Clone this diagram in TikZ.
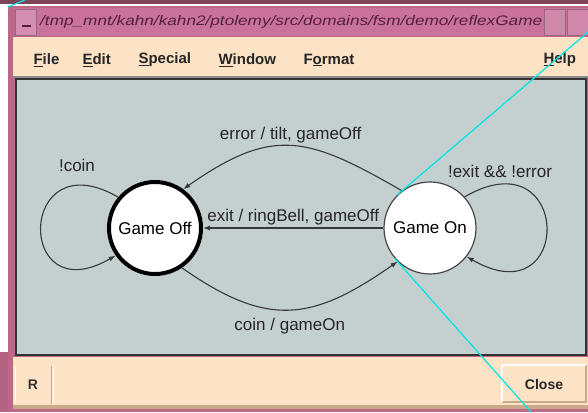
\documentclass[tikz,border=0pt]{standalone}
\usepackage{fontspec}
\usepackage{graphicx}
\setmainfont{Liberation Sans}
\usetikzlibrary{arrows.meta}
\definecolor{maroon}{HTML}{7D4459}
\definecolor{framepink}{HTML}{BE6789}
\definecolor{titlepink}{HTML}{C9729B}
\definecolor{titletext}{HTML}{55203A}
\definecolor{peach}{HTML}{FDE3C5}
\definecolor{tan}{HTML}{C9A98A}
\definecolor{canvas}{HTML}{C4CFCF}
\definecolor{calloutcyan}{HTML}{00E5E8}
\begin{document}
\begin{tikzpicture}[x=1pt,y=1pt,
    state/.style={circle,draw=black!72,line width=1.2pt,fill=white,minimum size=92pt,inner sep=0pt,font=\fontsize{17}{19}\selectfont},
    trans/.style={draw=black!78,line width=1.1pt,-{Latex[length=7pt,width=5pt]}},
    lab/.style={font=\fontsize{17}{19}\selectfont,text=black!85,inner sep=2pt},
    menu/.style={anchor=west,font=\bfseries\fontsize{15}{17}\selectfont,text=black!85},
    callout/.style={draw=calloutcyan,line width=1.2pt}]
    \useasboundingbox (0,0) rectangle (588,412);
    % window frame
    \fill[maroon] (0,0) rectangle (588,412);
    \fill[white] (0,405.5) rectangle (588,407.5);
    \fill[white] (0,60) rectangle (8,407.5);
    \fill[framepink!85!maroon] (0,0) rectangle (8,60);
    \fill[framepink] (8,0) rectangle (588,405.5);
    \fill[titlepink] (15,376) rectangle (588,404);
    \draw[maroon!80,fill=titlepink!80!white] (15,377) rectangle (36,403);
    \draw[titletext,line width=1.2pt] (22,386) -- (31,386);
    \draw[maroon!80,fill=titlepink!85!white] (544,377) rectangle (565,403);
    \draw[maroon!80,fill=titlepink!85!white] (567,377) rectangle (588,403);
    \node[anchor=west,text=titletext,inner sep=0pt] (title) at (40,390)
        {\resizebox{502pt}{10pt}{\itshape /tmp\_mnt/kahn/kahn2/ptolemy/src/domains/fsm/demo/reflexGame}};
    % menu bar
    \fill[peach] (13,335) rectangle (588,375);
    \fill[black!45] (13,334) rectangle (588,336);
    \node[menu] (mfile) at (30,352) {\underline{F}ile};
    \node[menu] (medit) at (79,352) {\underline{E}dit};
    \node[menu] (mspecial) at (135,352) {\underline{S}pecial};
    \node[menu] (mwindow) at (215,352) {\underline{W}indow};
    \node[menu] (mformat) at (300,352) {F\underline{o}rmat};
    \node[menu] (mhelp) at (540,352) {\underline{H}elp};
    % canvas
    \filldraw[fill=canvas,draw=black!80,line width=2pt] (16,57) rectangle (586,333);
    % bottom bar
    \fill[peach] (13,7) rectangle (588,55);
    \fill[tan] (13,3) rectangle (588,7);
    \draw[white,line width=1pt] (15,8) -- (15,46);
    \draw[tan,line width=1pt] (51,8) -- (51,46);
    \draw[white,line width=1pt] (53,8) -- (53,46);
    \node[font=\bfseries\fontsize{14}{16}\selectfont,text=black!80] (rlab) at (33,27) {R};
    \draw[tan,line width=1.5pt] (502,10) -- (586,10) -- (586,47);
    \draw[white,line width=1.5pt] (502,10) -- (502,47) -- (586,47);
    \node[font=\bfseries\fontsize{14}{16}\selectfont,text=black!85] (close) at (544,28) {Close};
    % states
    \node[state,draw=black,line width=4pt] (off) at (155,184) {Game Off};
    \node[state] (on) at (430,184) {Game On};
    % transitions
    \draw[trans] (on.127) to[out=150,in=35,looseness=1.28]
        node[lab,above] (lerror) {error / tilt, gameOff} (off.54);
    \draw[trans] (on.west) -- node[lab,above] (lexit) {exit / ringBell, gameOff} (off.east);
    \draw[trans] (off.-56) to[out=-35,in=215,looseness=1.24]
        node[lab,below=6pt] (lcoin) {coin / gameOn} (on.226);
    \draw[trans] (off.140) to[out=150,in=210,looseness=5.1] (off.215);
    \node[lab] (lnocoin) at (77,247) {!coin};
    \draw[trans] (on.42) to[out=30,in=-30,looseness=5.3] (on.-38);
    \node[lab] (lstay) at (500,241) {!exit \&\& !error};
    % callout lines
    \coordinate (ca) at (8,405);
    \coordinate (cb) at (25,412);
    \coordinate (cc) at (588,380);
    \coordinate (cd) at (531,0);
    \draw[callout] (ca) -- (cb);
    \draw[callout] (on.135) -- (cc);
    \draw[callout] (on.221) -- (cd);
\end{tikzpicture}
\end{document}
